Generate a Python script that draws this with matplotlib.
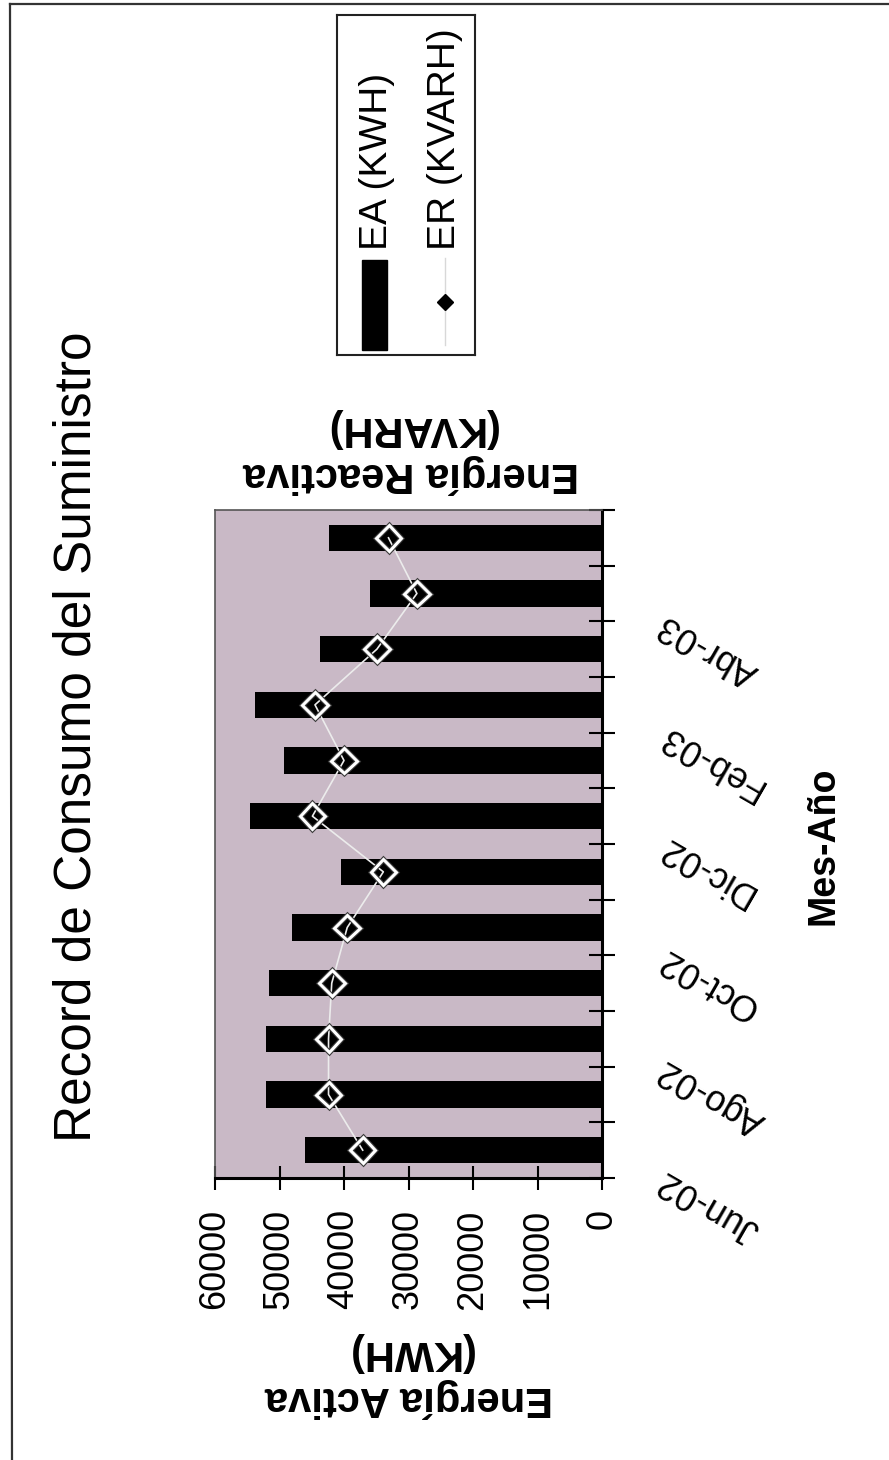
import matplotlib
matplotlib.use("Agg")
import matplotlib.pyplot as plt
import matplotlib.patheffects as pe
import matplotlib.transforms as mtransforms
from matplotlib.lines import Line2D
from matplotlib.patches import Rectangle
import numpy as np

plt.rcParams['font.family'] = ['Liberation Sans', 'DejaVu Sans']

# datos (Jun-02 .. May-03)
meses = ['Jun-02', 'Jul-02', 'Ago-02', 'Sep-02', 'Oct-02', 'Nov-02',
         'Dic-02', 'Ene-03', 'Feb-03', 'Mar-03', 'Abr-03', 'May-03']
ea_kwh = [46000, 52100, 52100, 51700, 48000, 40400,
          54500, 49300, 53800, 43700, 36000, 42300]
er_kvarh = [37100, 42400, 42400, 41900, 39500, 33900,
            44900, 40000, 44500, 34900, 28700, 33100]
valor_ticks = [0, 10000, 20000, 30000, 40000, 50000, 60000]

W, H = 889, 1460
fig = plt.figure(figsize=(W / 100, H / 100), dpi=100)
fig.patch.set_facecolor('white')

# marco exterior
fig.add_artist(Line2D([10 / W, 1], [1 - 4 / H, 1 - 4 / H], color='#333333', lw=1.6))
fig.add_artist(Line2D([10 / W, 12 / W], [1 - 4 / H, 0], color='#333333', lw=1.6))

# area de trazado (grafico girado: barras horizontales, valores invertidos)
ax = fig.add_axes([215 / W, 1 - 1178 / H, 387 / W, 668 / H])
ax.set_facecolor('#c9b9c6')

pos = np.arange(len(meses))
ax.barh(pos, ea_kwh, height=0.47, color='black', zorder=2)
ax.plot(er_kvarh, pos, color='#ececec', lw=1.2, zorder=3)
ax.plot(er_kvarh, pos, linestyle='none', marker='D', markersize=13,
        markerfacecolor='none', markeredgecolor='white', markeredgewidth=2.2,
        zorder=4, path_effects=[pe.Stroke(linewidth=3.8, foreground='#3a3a3a'), pe.Normal()])

ax.set_xlim(60000, 0)
ax.set_ylim(-0.5, len(meses) - 0.5)

# eje de valores
ax.set_xticks(valor_ticks)
ax.set_xticklabels([str(v) for v in valor_ticks])
ax.tick_params(axis='x', direction='inout', length=17, width=1.5, pad=14,
               labelsize=26, labelrotation=90)

# eje de categorias a la derecha (marcas entre categorias)
ax.yaxis.tick_right()
ax.set_yticks(np.arange(len(meses) + 1) - 0.5)
ax.set_yticklabels([])
ax.tick_params(axis='y', which='major', direction='inout', length=19, width=1.5)

off = mtransforms.ScaledTranslation(0.64, -0.20, fig.dpi_scale_trans)
for i in pos[::2]:
    ax.text(1, i, meses[i], transform=ax.get_yaxis_transform() + off,
            fontsize=26, rotation=150, rotation_mode='anchor',
            ha='right', va='baseline')

for s in ['left', 'top']:
    ax.spines[s].set_color('#555555')
    ax.spines[s].set_linewidth(1.2)
    ax.spines[s].set_linestyle((0, (1, 1)))
ax.spines['right'].set_linewidth(2.2)
ax.spines['bottom'].set_linewidth(2.2)

# textos
fig.text(77 / W, 1 - 737 / H, 'Record de Consumo del Suministro', rotation=90,
         fontsize=37, ha='center', va='center')
fig.text(409 / W, 1 - 1375 / H, 'Energía Activa\n(KWH)', rotation=180,
         fontsize=30, fontweight='bold', ha='center', va='center', multialignment='center')
fig.text(411 / W, 1 - 451 / H, 'Energía Reactiva\n(KVARH)', rotation=180,
         fontsize=30, fontweight='bold', ha='center', va='center', multialignment='center')
fig.text(823 / W, 1 - 846 / H, 'Mes-Año', rotation=90,
         fontsize=27, fontweight='bold', ha='center', va='center')

# leyenda girada
lax = fig.add_axes([337 / W, 1 - 355 / H, 138 / W, 340 / H])
lax.set_xlim(337, 475)
lax.set_ylim(355, 15)
lax.set_xticks([])
lax.set_yticks([])
for s in lax.spines.values():
    s.set_linewidth(1.5)
    s.set_color('#222222')
lax.add_patch(Rectangle((362, 260), 25, 90, color='black'))
lax.text(377, 250, 'EA (KWH)', rotation=90, fontsize=28, ha='center', va='bottom')
lax.plot([445, 445], [258, 345], color='#d8d8d8', lw=1)
lax.plot([445], [302], marker='D', markersize=8, color='black')
lax.text(445, 250, 'ER (KVARH)', rotation=90, fontsize=28, ha='center', va='bottom')

fig.savefig('out.png', dpi=100)
